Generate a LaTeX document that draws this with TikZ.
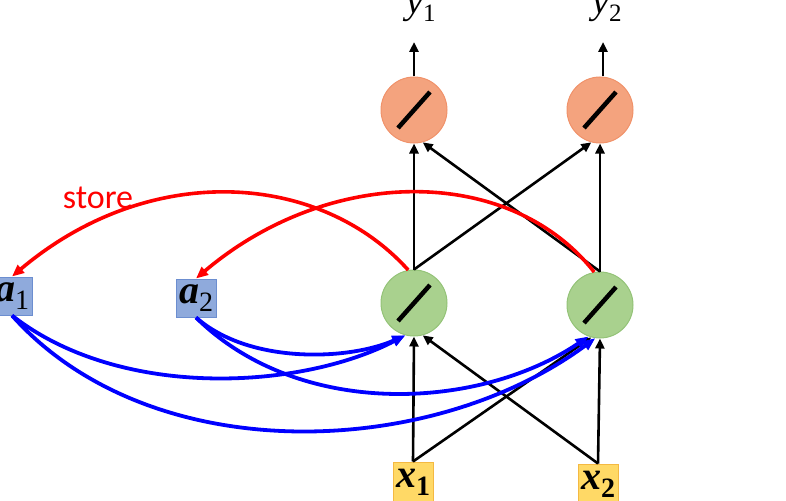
\documentclass[tikz,border=0pt]{standalone}
\usepackage{fontspec}
\setmainfont{Liberation Serif}
\newfontfamily\storefont{Carlito}
\usetikzlibrary{arrows.meta}

\definecolor{neuronorange}{RGB}{244,163,126}
\definecolor{orangeedge}{RGB}{240,146,106}
\definecolor{neurongreen}{RGB}{169,209,142}
\definecolor{greenedge}{RGB}{148,195,120}
\definecolor{memblue}{RGB}{143,170,220}
\definecolor{memedge}{RGB}{108,142,208}
\definecolor{inyellow}{RGB}{255,217,102}
\definecolor{inedge}{RGB}{244,185,66}

% bold italic letter, plain subscript
\newcommand{\memlab}[2]{\textbf{\textit{#1}}\raisebox{-8pt}{\fontsize{28}{28}\selectfont #2}}
\newcommand{\inlab}[2]{\textbf{\textit{#1}\raisebox{-8pt}{\fontsize{28}{28}\selectfont #2}}}
\newcommand{\outlab}[2]{\textit{#1}\raisebox{-8pt}{\fontsize{25}{25}\selectfont #2}}

\begin{document}
\begin{tikzpicture}[x=1pt,y=-1pt,
		neuron/.style={circle,minimum size=66pt,inner sep=0pt,line width=1pt,
			path picture={\draw[black,line width=4.5pt] (path picture bounding box.center) ++(-16pt,-18pt) -- ++(32pt,36pt);}},
		outneuron/.style={neuron,fill=neuronorange,draw=orangeedge},
		hidneuron/.style={neuron,fill=neurongreen,draw=greenedge},
		membox/.style={draw=memedge,fill=memblue,line width=1pt,minimum width=40pt,minimum height=38pt,inner sep=0pt,font=\fontsize{40}{40}\selectfont},
		inbox/.style={draw=inedge,fill=inyellow,line width=1pt,minimum width=40pt,minimum height=40pt,inner sep=0pt,font=\fontsize{40}{40}\selectfont},
		wire/.style={line width=2.6pt,-{Triangle[length=10pt,width=9pt]}},
		storeline/.style={red,line width=3.6pt,-{Triangle[length=12pt,width=10pt]}},
		readline/.style={blue,line width=3.8pt,-{Triangle[length=13pt,width=10pt]}}]
		\useasboundingbox (0,0) rectangle (786,500);
		\clip (0,0) rectangle (786,500);

		\node[outneuron] (o1) at (414,110) {};
		\node[outneuron] (o2) at (600,110) {};
		\node[hidneuron] (g1) at (414,303) {};
		\node[hidneuron] (g2) at (600,305) {};
		\node[inbox] (x1) at (413,482) {\inlab{x}{1}};
		\node[inbox] (x2) at (598,484) {\inlab{x}{2}};
		\node[membox] (a1) at (12,296) {\memlab{a}{1}};
		\node[membox] (a2) at (196,298) {\memlab{a}{2}};

		\node[anchor=base,font=\fontsize{38}{38}\selectfont] (y1) at (421,14) {\outlab{y}{1}};
		\node[anchor=base,font=\fontsize{38}{38}\selectfont] (y2) at (607,14) {\outlab{y}{2}};
		\coordinate (t1) at (414,42);
		\coordinate (t2) at (603,42);
		\node[red,font=\storefont\fontsize{34}{36}\selectfont] (store) at (98,198) {store};

		% outputs
		\draw[wire] (o1.north) -- (t1);
		\draw[wire] ([xshift=3pt]o2.north) -- (t2);

		% hidden to output
		\draw[wire] (g1.north) -- (o1.south);
		\draw[wire] (g1.north) -- (o2.255);
		\draw[wire] (g2.north) -- (o2.south);
		\draw[wire] (g2.north) -- (o1.285);

		% input to hidden
		\draw[wire] (x1.north) -- (g1.south);
		\draw[wire] (x1.north) -- (g2.255);
		\draw[wire] (x2.north) -- (g2.south);
		\draw[wire] (x2.north) -- (g1.285);

		% store
		\draw[storeline] (g1.100) .. controls (320,172) and (150,160) .. (a1.north);
		\draw[storeline] (g2.100) .. controls (510,165) and (330,165) .. (a2.north);

		% read back
		\draw[readline] (a1.south) .. controls (120,400) and (300,390) .. (g1.255);
		\draw[readline] (a1.south) .. controls (150,470) and (430,460) .. (g2.262);
		\draw[readline] (a2.south) .. controls (250,365) and (350,360) .. (g1.255);
		\draw[readline] (a2.south) .. controls (300,420) and (480,410) .. (g2.250);
\end{tikzpicture}
\end{document}
